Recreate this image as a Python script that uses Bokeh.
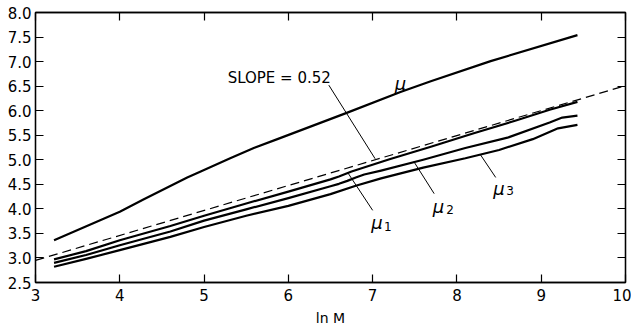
from bokeh.plotting import figure
from bokeh.models import Range1d, LinearAxis, Label, ColumnDataSource, FixedTicker, NumeralTickFormatter
from bokeh.embed import file_html
from bokeh.resources import INLINE

# ---- data ----
x_ticks = [3, 4, 5, 6, 7, 8, 9, 10]
y_ticks = [2.5, 3.0, 3.5, 4.0, 4.5, 5.0, 5.5, 6.0, 6.5, 7.0, 7.5, 8.0]

mu_x = [3.22, 4.0, 4.28, 4.8, 4.96, 5.31, 5.59, 5.87, 6.70, 7.33, 7.69, 8.40, 9.43]
mu_y = [3.36, 3.94, 4.19, 4.64, 4.76, 5.03, 5.24, 5.42, 5.96, 6.38, 6.60, 7.01, 7.54]

mu1_x = [3.22, 3.6, 4.0, 4.6, 5.0, 5.5, 6.0, 6.5, 6.6, 6.75, 7.2, 7.7, 8.2, 8.7, 9.1, 9.43]
mu1_y = [2.97, 3.14, 3.36, 3.65, 3.86, 4.11, 4.35, 4.60, 4.66, 4.76, 5.01, 5.27, 5.54, 5.80, 6.02, 6.18]

mu2_x = [3.22, 3.6, 4.0, 4.6, 5.0, 5.5, 6.0, 6.5, 6.6, 6.7, 6.8, 6.9, 7.1, 7.6, 8.1, 8.6, 9.1, 9.25, 9.43]
mu2_y = [2.90, 3.06, 3.26, 3.54, 3.76, 3.99, 4.22, 4.46, 4.51, 4.57, 4.64, 4.70, 4.78, 5.00, 5.24, 5.45, 5.76, 5.86, 5.90]

mu3_x = [3.22, 3.6, 4.0, 4.6, 5.0, 5.5, 6.0, 6.5, 6.8, 7.1, 7.6, 8.1, 8.5, 8.9, 9.2, 9.43]
mu3_y = [2.82, 2.98, 3.16, 3.43, 3.63, 3.86, 4.06, 4.30, 4.47, 4.62, 4.84, 5.03, 5.20, 5.42, 5.64, 5.71]

slope_x = [3.0, 10.0]
slope_y = [2.95, 6.51]

# annotation leaders and labels
lead_x0 = [6.48, 6.70, 7.49, 8.28]
lead_y0 = [6.52, 4.75, 4.96, 5.10]
lead_x1 = [7.03, 7.00, 7.73, 8.46]
lead_y1 = [5.02, 3.97, 4.31, 4.64]

slope_text = "SLOPE = 0.52"
slope_text_pos = (5.28, 6.66)
mu_labels = ["μ", "μ", "μ", "μ"]
mu_label_x = [7.33, 7.05, 7.78, 8.50]
mu_label_y = [6.56, 3.72, 4.04, 4.42]
sub_labels = ["1", "2", "3"]
sub_label_x = [7.18, 7.92, 8.63]
sub_label_y = [3.64, 3.98, 4.37]

FONT = "DejaVu Sans"

p = figure(width=631, height=328, output_backend="svg", toolbar_location=None,
           x_range=Range1d(3, 10), y_range=Range1d(2.5, 8.0),
           min_border_left=35, min_border_right=6, min_border_top=12, min_border_bottom=41)
p.background_fill_color = "white"
p.border_fill_color = "white"
p.xgrid.visible = False
p.ygrid.visible = False
p.outline_line_color = "black"
p.outline_line_width = 1.3

def style_axis(ax, ticks, show_labels=True):
    ax.ticker = FixedTicker(ticks=ticks)
    ax.major_tick_in = 8
    ax.major_tick_out = 0
    ax.minor_tick_line_color = None
    ax.axis_line_color = "black"
    ax.axis_line_width = 1.3
    ax.major_tick_line_color = "black"
    ax.major_tick_line_width = 1.2
    if show_labels:
        ax.major_label_text_font = FONT
        ax.major_label_text_font_size = "15px"
        ax.major_label_text_color = "black"
        ax.major_label_standoff = 6
    else:
        ax.major_label_text_font_size = "1px"
        ax.major_label_text_color = None
        ax.major_label_standoff = 0

style_axis(p.xaxis[0], x_ticks)
style_axis(p.yaxis[0], y_ticks)
p.yaxis[0].major_label_standoff = 4
p.yaxis[0].formatter = NumeralTickFormatter(format="0.0")
p.xaxis[0].axis_label = "ln M"
p.xaxis[0].axis_label_text_font = FONT
p.xaxis[0].axis_label_text_font_size = "14px"
p.xaxis[0].axis_label_text_font_style = "normal"
p.xaxis[0].axis_label_text_color = "black"
p.xaxis[0].axis_label_standoff = 6

top_ax = LinearAxis()
style_axis(top_ax, x_ticks, show_labels=False)
p.add_layout(top_ax, "above")
right_ax = LinearAxis()
style_axis(right_ax, y_ticks, show_labels=False)
p.add_layout(right_ax, "right")

# curves
for xs, ys in [(mu_x, mu_y), (mu1_x, mu1_y), (mu2_x, mu2_y), (mu3_x, mu3_y)]:
    p.line(xs, ys, line_color="black", line_width=2.2, line_join="round")
p.line(slope_x, slope_y, line_color="black", line_width=1.2, line_dash="9 5")

# leaders
src = ColumnDataSource(dict(x0=lead_x0, y0=lead_y0, x1=lead_x1, y1=lead_y1))
p.segment(x0="x0", y0="y0", x1="x1", y1="y1", source=src, line_color="black", line_width=1.0)

# labels
p.add_layout(Label(x=slope_text_pos[0], y=slope_text_pos[1], text=slope_text,
                   text_font=FONT, text_font_size="15px", text_color="black",
                   text_align="left", text_baseline="middle"))
for t, lx, ly in zip(mu_labels, mu_label_x, mu_label_y):
    p.add_layout(Label(x=lx, y=ly, text=t, text_font=FONT, text_font_size="18px",
                       text_font_style="italic", text_color="black",
                       text_align="center", text_baseline="middle"))
for t, lx, ly in zip(sub_labels, sub_label_x, sub_label_y):
    p.add_layout(Label(x=lx, y=ly, text=t, text_font=FONT, text_font_size="12px",
                       text_color="black", text_align="center", text_baseline="middle"))

open("out.html", "w").write(file_html(p, INLINE))
